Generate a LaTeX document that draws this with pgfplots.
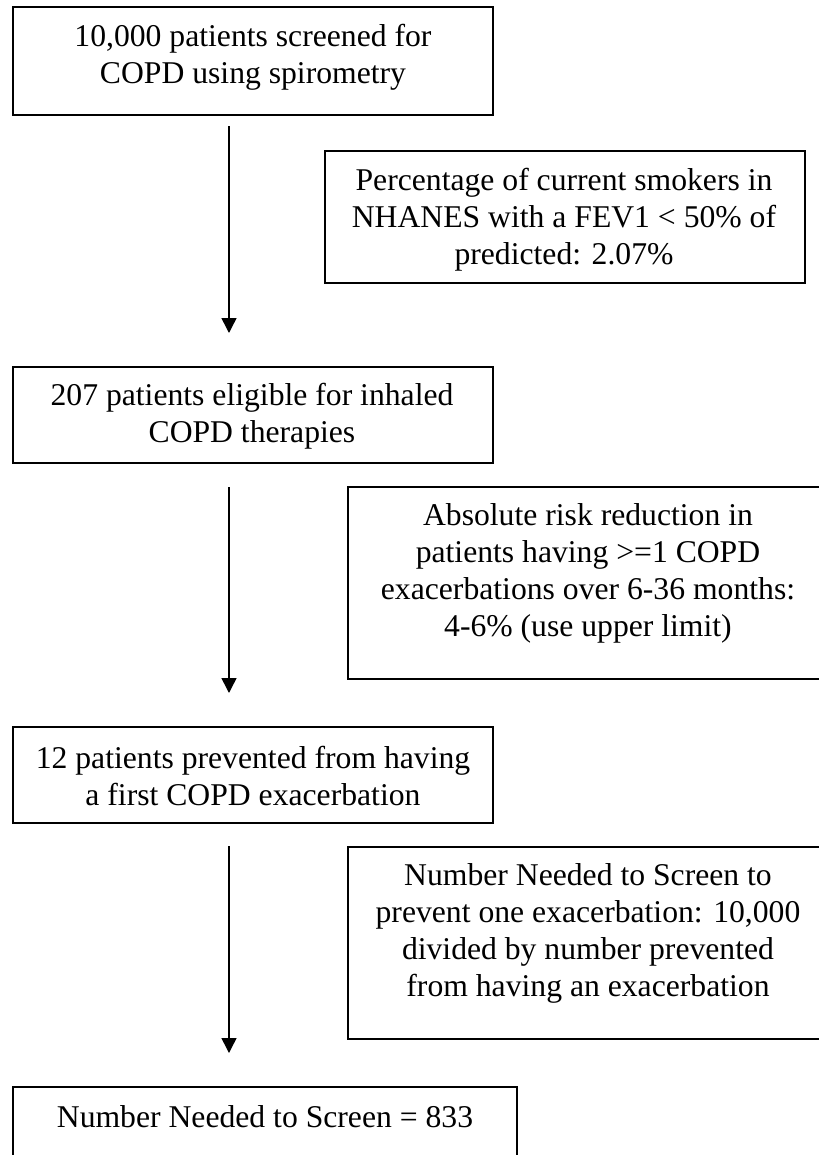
\documentclass[border=0pt]{standalone}
\usepackage{fontspec}
\setmainfont{Liberation Serif}
\usepackage{pgfplots}
\pgfplotsset{compat=1.18}
\usetikzlibrary{arrows.meta}
\tikzset{
  boxline/.style={black, line width=1.5pt, mark=none, line cap=rect, line join=miter},
  arr/.style={black, line width=0.9pt, mark=none, -{Triangle[length=9pt,width=9pt]}},
  txt/.style={align=center, inner sep=0pt, font=\fontsize{19}{22.2}\selectfont},
}
\begin{document}
\begin{tikzpicture}
\begin{axis}[
  scale only axis, width=491.4pt, height=693pt,
  xmin=0, xmax=819, ymin=0, ymax=1155, y dir=reverse,
  axis lines=none, ticks=none, clip=true,
]
% boxes
\addplot[boxline] coordinates {(13,7) (493,7) (493,115) (13,115) (13,7)};
\addplot[boxline] coordinates {(325,151) (805,151) (805,283) (325,283) (325,151)};
\addplot[boxline] coordinates {(13,367) (493,367) (493,463) (13,463) (13,367)};
\addplot[boxline] coordinates {(348,487) (830,487) (830,679) (348,679) (348,487)};
\addplot[boxline] coordinates {(13,727) (493,727) (493,823) (13,823) (13,727)};
\addplot[boxline] coordinates {(348,847) (830,847) (830,1039) (348,1039) (348,847)};
\addplot[boxline] coordinates {(13,1180) (13,1087) (517,1087) (517,1180)};
% arrows
\addplot[arr] coordinates {(229,126) (229,333)};
\addplot[arr] coordinates {(229,487) (229,693)};
\addplot[arr] coordinates {(229,846) (229,1053)};
% texts
\node[txt] at (axis cs:253,57) {10,000 patients screened for\\COPD using spirometry};
\node[txt] at (axis cs:564,220) {Percentage of current smokers in\\NHANES with a FEV1 < 50\% of\\predicted: 2.07\%};
\node[txt] at (axis cs:252,416) {207 patients eligible for inhaled\\COPD therapies};
\node[txt] at (axis cs:588,573) {Absolute risk reduction in\\patients having >=1 COPD\\exacerbations over 6-36 months:\\4-6\% (use upper limit)};
\node[txt] at (axis cs:253,776) {12 patients prevented from having\\a first COPD exacerbation};
\node[txt] at (axis cs:588,933) {Number Needed to Screen to\\prevent one exacerbation: 10,000\\divided by number prevented\\from having an exacerbation};
\node[txt] at (axis cs:265,1117) {Number Needed to Screen = 833};
\end{axis}
\pgfresetboundingbox
\useasboundingbox (current axis.south west) rectangle (current axis.north east);
\end{tikzpicture}
\end{document}
